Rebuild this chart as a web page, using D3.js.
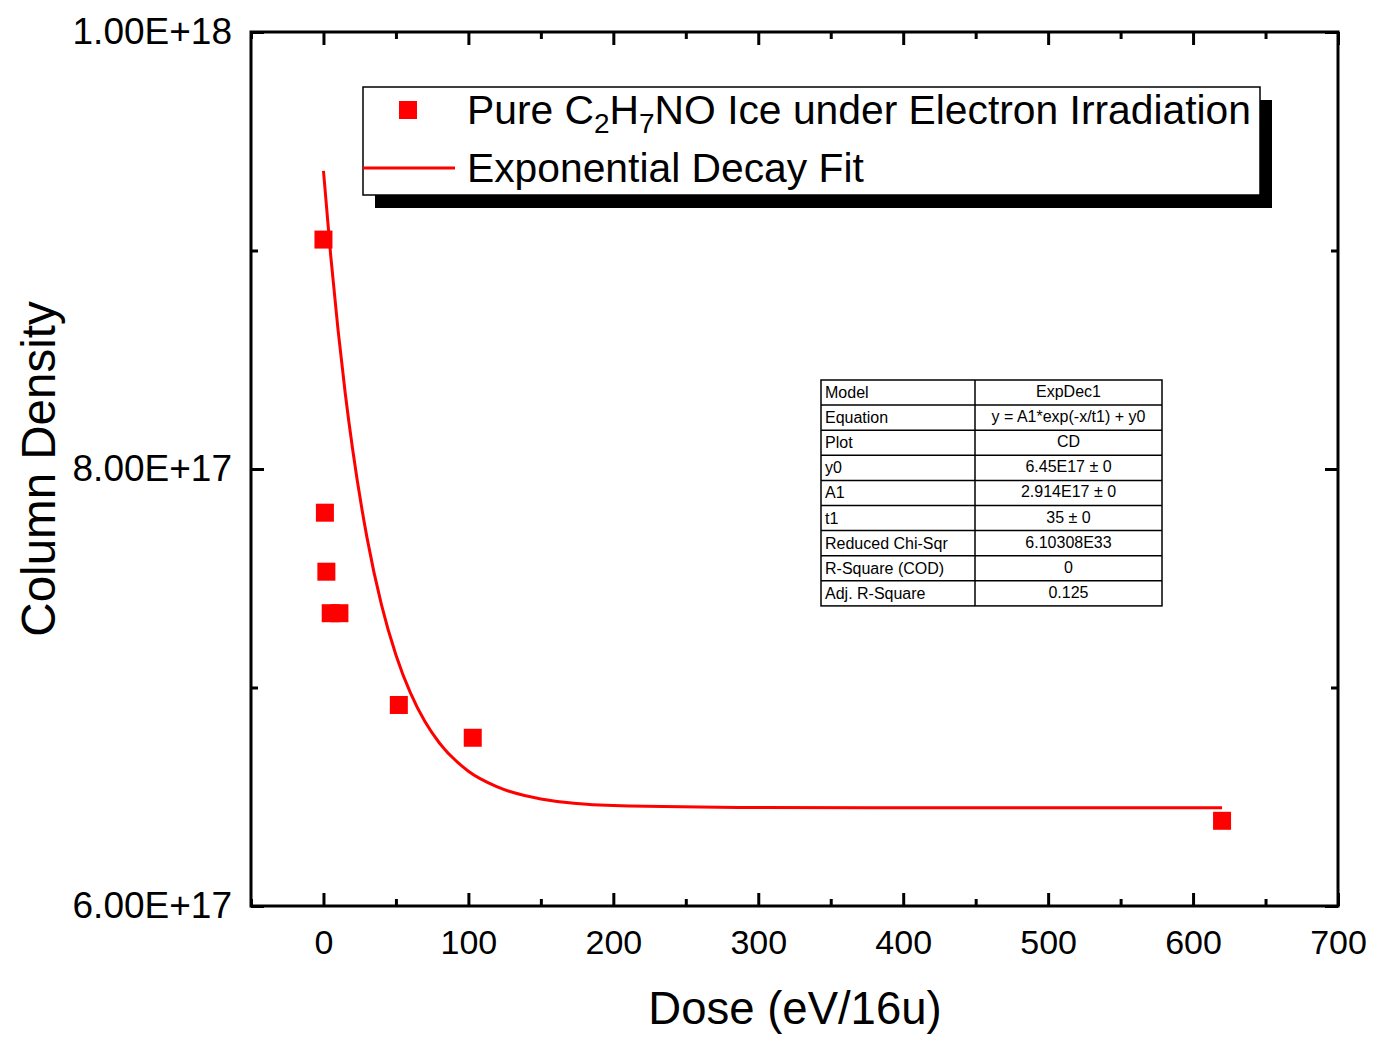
<!DOCTYPE html>
<html><head><meta charset="utf-8">
<script src="https://cdn.jsdelivr.net/npm/d3@7"></script>
<style>body{margin:0;background:#fff}svg{display:block}text{font-family:"Liberation Sans",Arial,sans-serif}</style>
</head><body>
<script>
// Data
const doseValues = [0, 1, 2, 5, 11, 52, 103, 620];
const columnDensity = [9.05e17, 7.80e17, 7.53e17, 7.34e17, 7.34e17, 6.92e17, 6.77e17, 6.39e17];
const fitDose = [0, 5, 10, 15, 20, 30, 40, 50, 60, 70, 80, 100, 120, 150, 200, 300, 400, 500, 620];
const fitDensity = [9.364e17, 8.976e17, 8.640e17, 8.348e17, 8.096e17, 7.687e17, 7.379e17, 7.149e17, 6.975e17, 6.844e17, 6.746e17, 6.617e17, 6.545e17, 6.490e17, 6.460e17, 6.451e17, 6.450e17, 6.450e17, 6.450e17];
const xMajorTicks = [0, 100, 200, 300, 400, 500, 600, 700];
const xMinorTicks = [-50, 50, 150, 250, 350, 450, 550, 650];
const yMajorTicks = [6e17, 8e17, 1e18];
const yMinorTicks = [7e17, 9e17];
const yTickLabels = ["6.00E+17", "8.00E+17", "1.00E+18"];
const legendLabels = ["Pure C2H7NO Ice under Electron Irradiation", "Exponential Decay Fit"];
const tableKeys = ["Model", "Equation", "Plot", "y0", "A1", "t1", "Reduced Chi-Sqr", "R-Square (COD)", "Adj. R-Square"];
const tableVals = ["ExpDec1", "y = A1*exp(-x/t1) + y0", "CD", "6.45E17 \u00b1 0", "2.914E17 \u00b1 0", "35 \u00b1 0", "6.10308E33", "0", "0.125"];

const W = 1384, H = 1038;
const L = 251, R = 1338, T = 32, B = 906;
const svg = d3.select("body").append("svg").attr("width", W).attr("height", H);
const x = d3.scaleLinear().domain([-50, 700]).range([L, R]);
const y = d3.scaleLinear().domain([6e17, 1e18]).range([B, T]);
const red = "#ff0000";

// Fit curve
const line = d3.line().x((d, i) => x(fitDose[i])).y((d, i) => y(fitDensity[i])).curve(d3.curveMonotoneX);
svg.append("path").datum(fitDose).attr("d", line).attr("fill", "none").attr("stroke", red).attr("stroke-width", 3);

// Data points
const ms = 18;
svg.append("g").selectAll("rect").data(doseValues).join("rect")
  .attr("x", (d) => x(d) - ms / 2).attr("y", (d, i) => y(columnDensity[i]) - ms / 2)
  .attr("width", ms).attr("height", ms).attr("fill", red);

// Axes
function styleAxis(g) {
  g.select(".domain").remove();
  g.selectAll("line").attr("stroke", "#000").attr("stroke-width", 3);
  g.selectAll("text").attr("fill", "#000");
}
const fmtNone = () => "";
svg.append("g").attr("transform", `translate(0,${B})`)
  .call(d3.axisBottom(x).tickValues(xMajorTicks).tickSize(-13).tickPadding(24).tickFormat(d3.format("d")))
  .call(styleAxis).selectAll("text").attr("font-size", 34);
svg.append("g").attr("transform", `translate(0,${B})`)
  .call(d3.axisBottom(x).tickValues(xMinorTicks).tickSize(-7).tickFormat(fmtNone)).call(styleAxis);
svg.append("g").attr("transform", `translate(0,${T})`)
  .call(d3.axisTop(x).tickValues(xMajorTicks).tickSize(-13).tickFormat(fmtNone)).call(styleAxis);
svg.append("g").attr("transform", `translate(0,${T})`)
  .call(d3.axisTop(x).tickValues(xMinorTicks).tickSize(-7).tickFormat(fmtNone)).call(styleAxis);

svg.append("g").attr("transform", `translate(${L},0)`)
  .call(d3.axisLeft(y).tickValues(yMajorTicks).tickSize(-13).tickPadding(19).tickFormat((d, i) => yTickLabels[i]))
  .call(styleAxis).selectAll("text").attr("font-size", 37).attr("dy", "0.3em");
svg.append("g").attr("transform", `translate(${L},0)`)
  .call(d3.axisLeft(y).tickValues(yMinorTicks).tickSize(-7).tickFormat(fmtNone)).call(styleAxis);
svg.append("g").attr("transform", `translate(${R},0)`)
  .call(d3.axisRight(y).tickValues(yMajorTicks).tickSize(-13).tickFormat(fmtNone)).call(styleAxis);
svg.append("g").attr("transform", `translate(${R},0)`)
  .call(d3.axisRight(y).tickValues(yMinorTicks).tickSize(-7).tickFormat(fmtNone)).call(styleAxis);

// Frame
svg.append("rect").attr("x", L).attr("y", T).attr("width", R - L).attr("height", B - T)
  .attr("fill", "none").attr("stroke", "#000").attr("stroke-width", 3);

// Axis titles
svg.append("text").attr("x", 795).attr("y", 1024).attr("text-anchor", "middle")
  .attr("font-size", 45.5).text("Dose (eV/16u)");
svg.append("text").attr("transform", "translate(55,469) rotate(-90)").attr("text-anchor", "middle")
  .attr("font-size", 47.5).text("Column Density");

// Legend
const lg = svg.append("g");
lg.append("rect").attr("x", 375).attr("y", 100).attr("width", 897).attr("height", 108).attr("fill", "#000");
lg.append("rect").attr("x", 363).attr("y", 87).attr("width", 897).attr("height", 108)
  .attr("fill", "#fff").attr("stroke", "#000").attr("stroke-width", 1.5);
lg.append("rect").attr("x", 408 - 9).attr("y", 110 - 9).attr("width", 18).attr("height", 18).attr("fill", red);
lg.append("line").attr("x1", 363).attr("x2", 455).attr("y1", 168).attr("y2", 168).attr("stroke", red).attr("stroke-width", 3);
const t1 = lg.append("text").attr("x", 467).attr("y", 124).attr("font-size", 40.8);
t1.append("tspan").text("Pure C");
t1.append("tspan").attr("font-size", 28).attr("dy", 9).text("2");
t1.append("tspan").attr("dy", -9).text("H");
t1.append("tspan").attr("font-size", 28).attr("dy", 9).text("7");
t1.append("tspan").attr("dy", -9).text("NO Ice under Electron Irradiation");
lg.append("text").attr("x", 467).attr("y", 182).attr("font-size", 40.8).text(legendLabels[1]);

// Stats table
const tx0 = 821, tx1 = 975, tx2 = 1162, ty0 = 380, rh = 25.1;
const tg = svg.append("g");
tg.append("rect").attr("x", tx0).attr("y", ty0).attr("width", tx2 - tx0).attr("height", rh * tableKeys.length)
  .attr("fill", "#fff").attr("stroke", "#000").attr("stroke-width", 1.5);
tg.append("line").attr("x1", tx1).attr("x2", tx1).attr("y1", ty0).attr("y2", ty0 + rh * tableKeys.length)
  .attr("stroke", "#000").attr("stroke-width", 1.5);
tableKeys.forEach((k, i) => {
  if (i > 0) tg.append("line").attr("x1", tx0).attr("x2", tx2).attr("y1", ty0 + rh * i).attr("y2", ty0 + rh * i)
    .attr("stroke", "#000").attr("stroke-width", 1.5);
  tg.append("text").attr("x", tx0 + 4).attr("y", ty0 + rh * i + 18).attr("font-size", 16).text(k);
  tg.append("text").attr("x", (tx1 + tx2) / 2).attr("y", ty0 + rh * i + 17).attr("font-size", 16)
    .attr("text-anchor", "middle").text(tableVals[i]);
});
</script>
</body></html>
